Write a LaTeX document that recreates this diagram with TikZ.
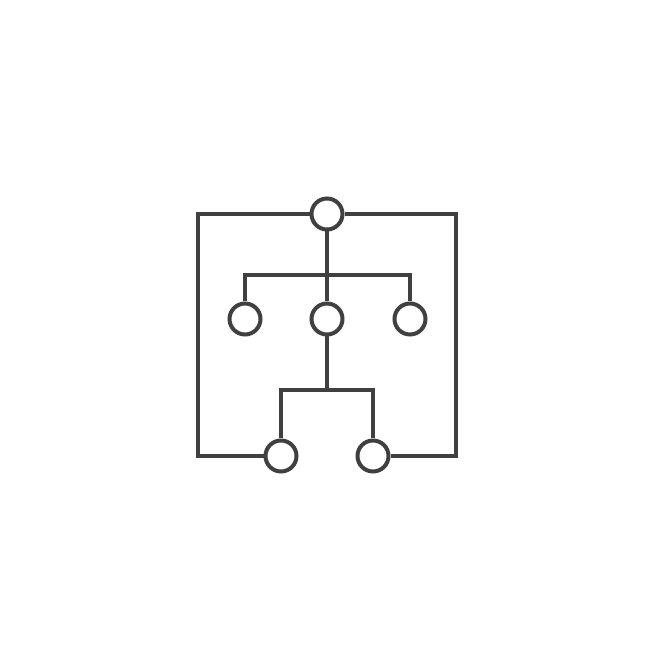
\documentclass[tikz,border=0pt]{standalone}
\definecolor{ccdark}{RGB}{64,64,64}

\begin{document}
\begin{tikzpicture}

  % Styles
  \tikzset{lien/.style = {ccdark, line width=0.04cm},
           rond/.style = {circle, draw=ccdark, line width=0.04cm, fill=white,
                          inner sep=0pt, minimum size=0.31cm}}

  \useasboundingbox (0,0) rectangle (6.55,6.55);

  % Liste des cercles
  \node[rond] (top) at (3.27,4.41) {};
  \node[rond] (ml) at (2.45,3.36) {};
  \node[rond] (mc) at (3.27,3.36) {};
  \node[rond] (mr) at (4.10,3.36) {};
  \node[rond] (bl) at (2.81,1.99) {};
  \node[rond] (br) at (3.73,1.99) {};

  % Coins et jonctions
  \coordinate (tl) at (1.98,4.41);
  \coordinate (tr) at (4.56,4.41);
  \coordinate (jt) at (3.27,3.80);
  \coordinate (jb) at (3.27,2.65);

  % Cadre
  \draw[lien] (top.west) -- (tl) |- (bl.west);
  \draw[lien] (top.east) -- (tr) |- (br.east);

  % Arbre
  \draw[lien] (top.south) -- (mc.north);
  \draw[lien] (ml.north) |- (jt) -| (mr.north);
  \draw[lien] (mc.south) -- (jb);
  \draw[lien] (bl.north) |- (jb) -| (br.north);

\end{tikzpicture}
\end{document}
